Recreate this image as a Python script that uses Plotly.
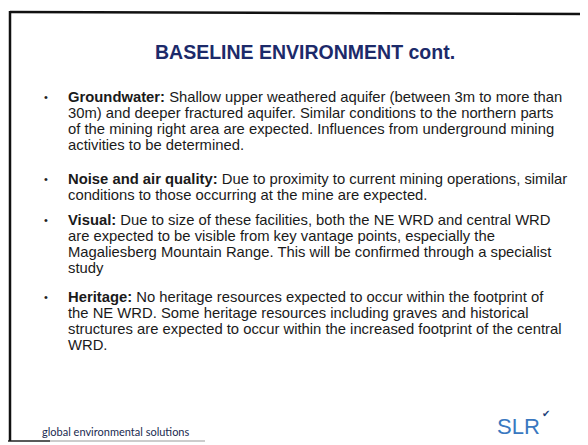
import plotly.graph_objects as go

# page body has an 8px margin, so the figure is offset and sized to fit the 588x445 window
OFF = 8
W, H = 588 - OFF, 445 - OFF

title_text = "BASELINE ENVIRONMENT cont."

bullet_labels = ["Groundwater:", "Noise and air quality:", "Visual:", "Heritage:"]
bullet_lines = [
    [" Shallow upper weathered aquifer (between 3m to more than",
     "30m) and deeper fractured aquifer. Similar conditions to the northern parts",
     "of the mining right area are expected. Influences from underground mining",
     "activities to be determined."],
    [" Due to proximity to current mining operations, similar",
     "conditions to those occurring at the mine are expected."],
    [" Due to size of these facilities, both the NE WRD and central WRD",
     "are expected to be visible from key vantage points, especially the",
     "Magaliesberg Mountain Range. This will be confirmed through a specialist",
     "study"],
    [" No heritage resources expected to occur within the footprint of",
     "the NE WRD. Some heritage resources including graves and historical",
     "structures are expected to occur within the increased footprint of the central",
     "WRD."],
]
bullet_top = [97, 179, 220, 297]
line_step = 16.0

footer_text = "global environmental solutions"
logo_text = "SLR"


def px(x):
    return (x - OFF) / W


def py(y):
    return 1 - (y - OFF) / H


fig = go.Figure()
ann = []
ann.append(dict(text=f"<b>{title_text}</b>", x=px(305), y=py(52), xref="paper", yref="paper",
                xanchor="center", yanchor="middle", showarrow=False,
                font=dict(family="Liberation Sans, Arial", size=19.5, color="#1c2a6a")))
for lab, lines, top in zip(bullet_labels, bullet_lines, bullet_top):
    ann.append(dict(text="•", x=px(46), y=py(top), xref="paper", yref="paper",
                    xanchor="center", yanchor="middle", showarrow=False,
                    font=dict(family="Liberation Sans, Arial", size=11, color="#222")))
    for i, ln in enumerate(lines):
        t = (f"<b>{lab}</b>" + ln) if i == 0 else ln
        ann.append(dict(text=t, x=px(66), y=py(top + i * line_step), xref="paper", yref="paper",
                        xanchor="left", yanchor="middle", showarrow=False,
                        font=dict(family="Liberation Sans, Arial", size=14.8, color="#1a1a1a")))
ann.append(dict(text=footer_text, x=px(40), y=py(431), xref="paper", yref="paper",
                xanchor="left", yanchor="middle", showarrow=False,
                font=dict(family="Lato, Noto Sans", size=11, color="#202a50")))
ann.append(dict(text=logo_text, x=px(495), y=py(426), xref="paper", yref="paper",
                xanchor="left", yanchor="middle", showarrow=False,
                font=dict(family="Liberation Sans, Arial", size=22, color="#3a78c0")))
ann.append(dict(text="✔", x=px(546), y=py(413), xref="paper", yref="paper",
                xanchor="center", yanchor="middle", showarrow=False,
                font=dict(family="DejaVu Sans", size=10, color="#1e3f7a")))

shapes = [
    dict(type="line", xref="paper", yref="paper", x0=px(10), y0=py(12), x1=px(588), y1=py(14),
         line=dict(color="#111", width=2.5)),
    dict(type="line", xref="paper", yref="paper", x0=px(10), y0=py(11), x1=px(10), y1=py(441),
         line=dict(color="#111", width=2.5)),
    dict(type="line", xref="paper", yref="paper", x0=px(8), y0=py(441), x1=px(50), y1=py(441),
         line=dict(color="#222", width=1.5)),
    dict(type="line", xref="paper", yref="paper", x0=px(50), y0=py(441), x1=px(205), y1=py(441),
         line=dict(color="#bbb", width=1.5)),
]

fig.update_layout(width=W, height=H, margin=dict(l=0, r=0, t=0, b=0),
                  paper_bgcolor="white", plot_bgcolor="white",
                  xaxis=dict(visible=False), yaxis=dict(visible=False),
                  annotations=ann, shapes=shapes, showlegend=False)
fig.write_html("out.html")
